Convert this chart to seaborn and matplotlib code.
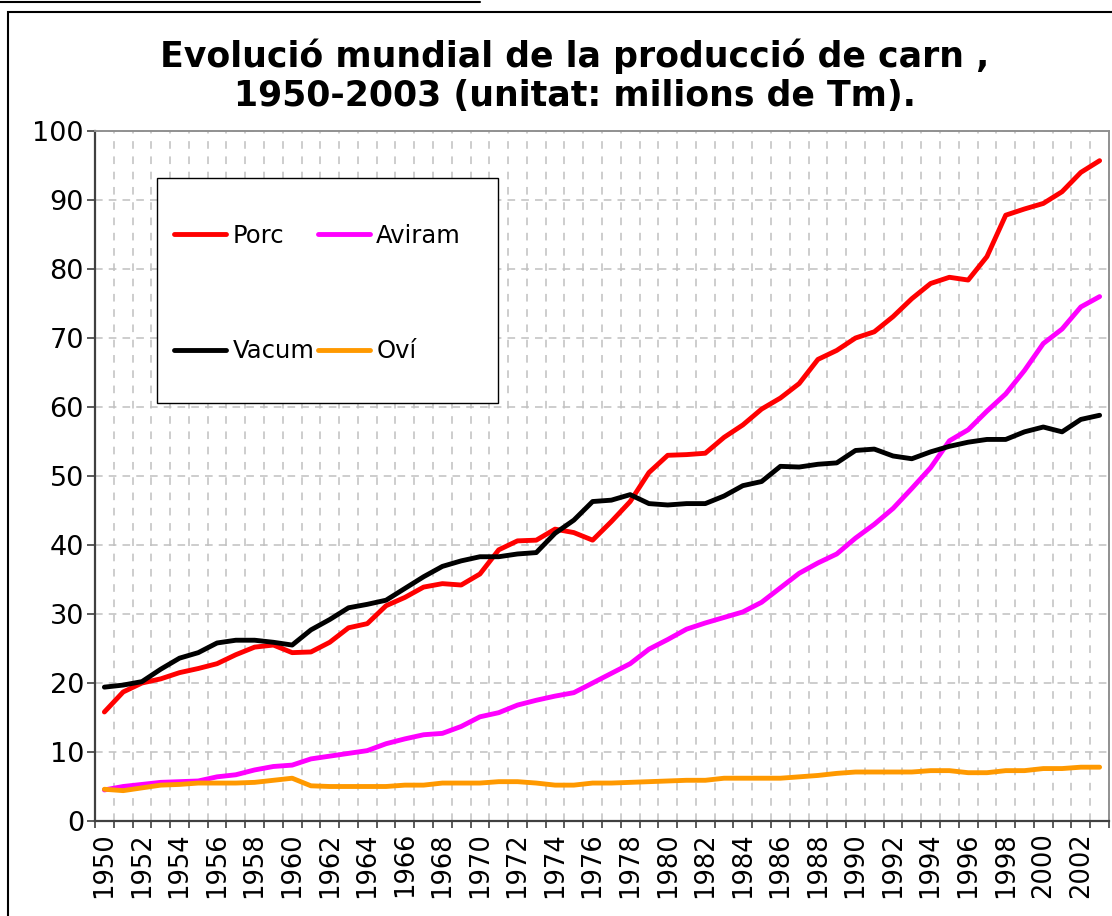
import matplotlib
matplotlib.use("Agg")
import matplotlib.pyplot as plt
from matplotlib.patches import Rectangle
from matplotlib.lines import Line2D
from matplotlib.ticker import FixedLocator, NullFormatter
import seaborn as sns
import pandas as pd

# Dades (milions de Tm), llegides del gràfic original
anys = list(range(1950, 2004))

porc = [15.8, 18.7, 20.0, 20.6, 21.5, 22.1, 22.8, 24.1, 25.2, 25.5,
        24.4, 24.5, 25.9, 28.0, 28.6, 31.2, 32.4, 33.9, 34.4, 34.2,
        35.8, 39.3, 40.6, 40.7, 42.3, 41.8, 40.7, 43.4, 46.3, 50.5,
        53.0, 53.1, 53.3, 55.6, 57.4, 59.7, 61.3, 63.4, 66.9, 68.2,
        70.0, 70.9, 73.1, 75.7, 77.9, 78.8, 78.4, 81.8, 87.8, 88.7,
        89.5, 91.2, 94.0, 95.7]

aviram = [4.5, 5.0, 5.3, 5.6, 5.7, 5.8, 6.4, 6.7, 7.4, 7.9,
          8.1, 9.0, 9.4, 9.8, 10.2, 11.2, 11.9, 12.5, 12.7, 13.7,
          15.1, 15.7, 16.8, 17.5, 18.1, 18.6, 20.0, 21.4, 22.8, 24.9,
          26.3, 27.8, 28.7, 29.5, 30.3, 31.7, 33.8, 35.9, 37.4, 38.7,
          41.0, 43.0, 45.3, 48.2, 51.2, 55.1, 56.7, 59.4, 61.9, 65.3,
          69.2, 71.3, 74.5, 76.0]

vacum = [19.4, 19.7, 20.2, 22.0, 23.6, 24.4, 25.8, 26.2, 26.2, 25.9,
         25.5, 27.7, 29.2, 30.9, 31.4, 32.0, 33.7, 35.4, 36.9, 37.7,
         38.3, 38.3, 38.7, 38.9, 41.7, 43.6, 46.3, 46.5, 47.3, 46.0,
         45.8, 46.0, 46.0, 47.1, 48.6, 49.2, 51.4, 51.3, 51.7, 51.9,
         53.7, 53.9, 52.9, 52.5, 53.5, 54.3, 54.9, 55.3, 55.3, 56.4,
         57.1, 56.4, 58.2, 58.8]

ovi = [4.6, 4.4, 4.8, 5.2, 5.3, 5.5, 5.5, 5.5, 5.6, 5.9,
       6.2, 5.1, 5.0, 5.0, 5.0, 5.0, 5.2, 5.2, 5.5, 5.5,
       5.5, 5.7, 5.7, 5.5, 5.2, 5.2, 5.5, 5.5, 5.6, 5.7,
       5.8, 5.9, 5.9, 6.2, 6.2, 6.2, 6.2, 6.4, 6.6, 6.9,
       7.1, 7.1, 7.1, 7.1, 7.3, 7.3, 7.0, 7.0, 7.3, 7.3,
       7.6, 7.6, 7.8, 7.8]

series = ["Porc", "Aviram", "Vacum", "Oví"]
colors = ["#FF0000", "#FF00FF", "#000000", "#FF9900"]

df = pd.DataFrame({"any": anys * 4,
                   "valor": porc + aviram + vacum + ovi,
                   "carn": sum([[s] * len(anys) for s in series], [])})

sns.set_style("white")
plt.rcParams["font.family"] = ["DejaVu Sans"]
plt.rcParams["text.color"] = "black"
plt.rcParams["xtick.color"] = "black"
plt.rcParams["ytick.color"] = "black"

fig = plt.figure(figsize=(11.12, 9.16), dpi=100)
ax = fig.add_axes([95 / 1112, 1 - 821 / 916, 1014 / 1112, 690 / 916])

sns.lineplot(data=df, x="any", y="valor", hue="carn", hue_order=series,
             palette=colors, linewidth=3.5, ax=ax, legend=True, zorder=4)

ax.set_xlim(1949.5, 2003.5)
ax.set_ylim(0, 100)
ax.set_xlabel("")
ax.set_ylabel("")

# eix X: etiquetes cada dos anys, marques entre categories
ax.xaxis.set_major_locator(FixedLocator(anys[::2]))
ax.xaxis.set_minor_locator(FixedLocator([a - 0.5 for a in anys] + [2003.5]))
ax.xaxis.set_minor_formatter(NullFormatter())
ax.tick_params(axis="x", which="major", length=0, pad=8, labelsize=18.5,
               labelrotation=90)
ax.tick_params(axis="x", which="minor", length=5, width=1.2, color="#404040",
               direction="out")
ax.set_yticks(range(0, 101, 10))
ax.tick_params(axis="y", length=6, width=1.2, color="#404040",
               direction="out", pad=2, labelsize=19.5)
ax.xaxis.set_ticks_position("bottom")
ax.yaxis.set_ticks_position("left")

# graella discontínua
ax.set_axisbelow(True)
ax.grid(axis="y", which="major", color="#c0c0c0", linestyle=(0, (5, 4)), lw=1.1)
ax.grid(axis="x", which="minor", color="#c0c0c0", linestyle=(0, (5, 5)), lw=1.1)
ax.grid(axis="x", which="major", visible=False)

for s in ["left", "bottom"]:
    ax.spines[s].set_color("#404040")
    ax.spines[s].set_linewidth(1.6)
for s in ["top", "right"]:
    ax.spines[s].set_color("#909090")
    ax.spines[s].set_linewidth(1.4)

# llegenda dins d'una caixa blanca
handles, labels = ax.get_legend_handles_labels()
ordre = [labels.index(n) for n in ["Porc", "Vacum", "Aviram", "Oví"]]
ax.get_legend().remove()
caixa = Rectangle(((157 - 95) / 1014, (821 - 403) / 690),
                  (498 - 157) / 1014, (403 - 178) / 690,
                  transform=ax.transAxes, facecolor="white",
                  edgecolor="black", lw=1.0, zorder=3)
ax.add_patch(caixa)
leg = ax.legend([handles[i] for i in ordre], [labels[i] for i in ordre],
                ncol=2, frameon=False, fontsize=17.5, loc="upper left",
                bbox_to_anchor=((174 - 95) / 1014, (821 - 224) / 690),
                borderpad=0, borderaxespad=0, handlelength=2.15,
                handletextpad=0.25, columnspacing=0.15, labelspacing=3.75)
leg.set_zorder(5)

fig.text(0.517, 1 - 76 / 916,
         "Evolució mundial de la producció de carn ,\n"
         "1950-2003 (unitat: milions de Tm).",
         ha="center", va="center", fontsize=25, fontweight="bold",
         linespacing=1.2)

# marc del gràfic
fig.add_artist(Rectangle((8 / 1112, -0.1), 1.2, 0.1 + 1 - 12 / 916,
                         transform=fig.transFigure, fill=False,
                         edgecolor="black", lw=1.5))
fig.add_artist(Line2D([0, 480 / 1112], [1 - 2 / 916, 1 - 2 / 916],
                      transform=fig.transFigure, color="black", lw=1.5))

fig.savefig("out.png", dpi=100)
